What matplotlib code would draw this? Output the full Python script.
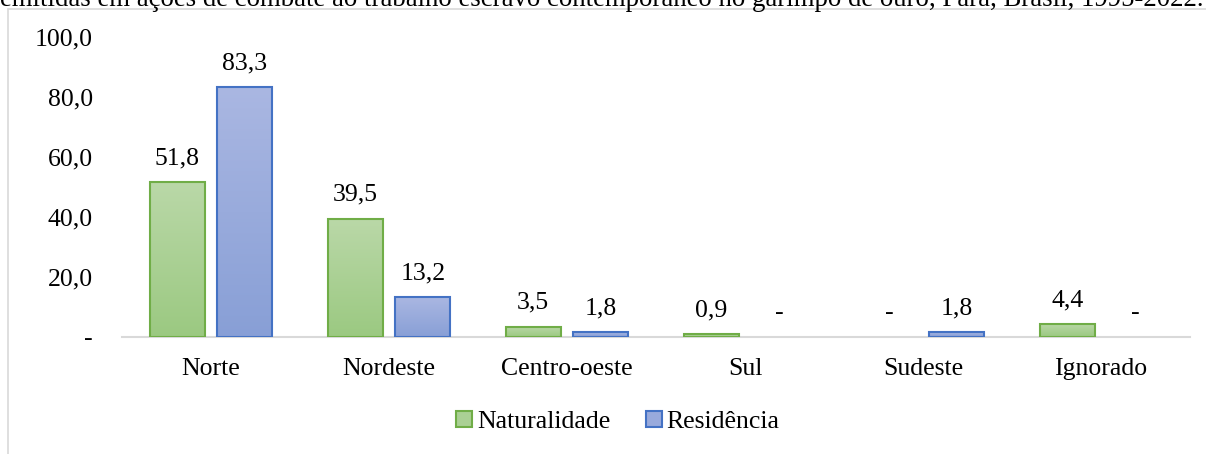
import matplotlib
matplotlib.use("Agg")
import matplotlib.pyplot as plt
import numpy as np
from matplotlib.patches import Patch, Rectangle
from matplotlib.colors import LinearSegmentedColormap

categories = ["Norte", "Nordeste", "Centro-oeste", "Sul", "Sudeste", "Ignorado"]
naturalidade = [51.8, 39.5, 3.5, 0.9, 0.0, 4.4]
residencia = [83.3, 13.2, 1.8, 0.0, 1.8, 0.0]
series_names = ["Naturalidade", "Residência"]
yticks = [0, 20, 40, 60, 80, 100]
title_text = ("emitidas em ações de combate ao trabalho escravo contemporâneo no garimpo de ouro, "
              "Pará, Brasil, 1995-2022.")

plt.rcParams['font.family'] = ['Liberation Serif', 'DejaVu Serif']
FS = 18.5

W, H = 1206, 454
fig = plt.figure(figsize=(W / 100, H / 100), dpi=100)
ax = fig.add_axes([122 / W, 1 - 337 / H, (1190 - 122) / W, 300 / H])

x = np.arange(len(categories))
bw = 0.31
off = 0.19

styles = [
    dict(top="#BAD8A8", bot="#9BC981", edge="#70AD47", mid="#AAD094"),
    dict(top="#AAB7E2", bot="#889FD6", edge="#4472C4", mid="#99AADC"),
]

for i, (vals, st) in enumerate(zip([naturalidade, residencia], styles)):
    pos = x + (-off if i == 0 else off)
    bars = ax.bar(pos, vals, bw, facecolor="none", edgecolor=st["edge"], linewidth=1.5, zorder=3)
    cmap = LinearSegmentedColormap.from_list("g%d" % i, [st["bot"], st["top"]])
    grad = np.linspace(0, 1, 256).reshape(-1, 1)
    for b, v in zip(bars, vals):
        if v > 0:
            xx, yy = b.get_x(), b.get_y()
            w, h = b.get_width(), b.get_height()
            im = ax.imshow(grad, cmap=cmap, origin="lower", aspect="auto",
                           extent=[xx, xx + w, yy, yy + h], zorder=2)
            im.set_clip_path(b)
        else:
            b.set_visible(False)
        label = ("%.1f" % v).replace(".", ",") if v > 0 else "-"
        ax.annotate(label, (b.get_x() + b.get_width() / 2, v), xytext=(0, 17),
                    textcoords="offset points", ha="center", va="center",
                    fontsize=FS, color="#000000", zorder=4)

ax.set_xlim(-0.5, len(categories) - 0.5)
ax.set_ylim(0, 100)
ax.set_yticks(yticks)
ax.set_yticklabels([("%.1f" % t).replace(".", ",") if t > 0 else "-" for t in yticks], fontsize=FS)
ax.set_xticks(x)
ax.set_xticklabels(categories, fontsize=FS)
ax.tick_params(axis="both", length=0)
ax.tick_params(axis="y", pad=21)
ax.tick_params(axis="x", pad=15)
for s in ["top", "right", "left"]:
    ax.spines[s].set_visible(False)
ax.spines["bottom"].set_color("#D9D9D9")
ax.spines["bottom"].set_linewidth(1.5)
ax.spines["bottom"].set_zorder(1)
# nudge the "-" zero tick label down slightly as in reference
ax.get_yticklabels()[0].set_y(-2)

handles = [Patch(facecolor=st["mid"], edgecolor=st["edge"], linewidth=1.5) for st in styles]
fig.legend(handles, series_names, loc="center", bbox_to_anchor=(618 / W, 1 - 422 / H),
           ncol=2, frameon=False, fontsize=FS, handlelength=0.6, handleheight=0.6,
           handletextpad=0.2, columnspacing=1.4)

# chart area frame
fig.add_artist(Rectangle((8 / W, -0.1), 1.2, 1 - 9 / H + 0.1, transform=fig.transFigure,
                         facecolor="none", edgecolor="#D9D9D9", linewidth=1.2))

fig.text(0 / W, 1 - 6 / H, title_text, ha="left", va="baseline", fontsize=19.3, color="#000000")

fig.savefig("out.png", dpi=100)
